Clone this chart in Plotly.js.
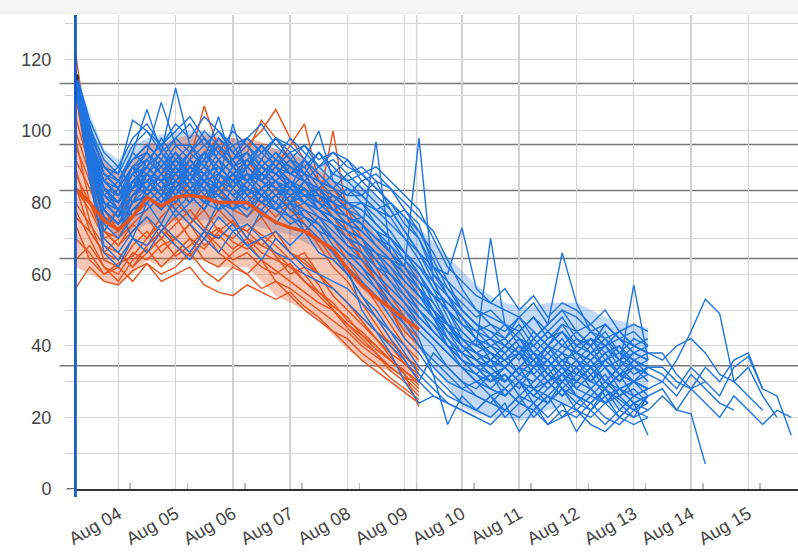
<!DOCTYPE html>
<html>
<head>
<meta charset="utf-8">
<script src="https://cdn.plot.ly/plotly-3.0.1.min.js"></script>
<style>
  html, body { margin: 0; padding: 0; background: #fff; }
  #chart { width: 798px; height: 555px; }
</style>
</head>
<body>
<div id="chart"></div>
<script>
"use strict";

const ORANGE = "#e8521c";
const BLUE = "#1f74e0";

// Samples are 6-hourly, starting Aug 03 06:00.
const START_MS = Date.UTC(2024, 7, 3, 6);
const STEP_MS = 6 * 3600 * 1000;

const X_RANGE = ["2024-08-03 05:26", "2024-08-15 20:50"];
const dayTicks = ["2024-08-04", "2024-08-05", "2024-08-06", "2024-08-07", "2024-08-08", "2024-08-09",
  "2024-08-10", "2024-08-11", "2024-08-12", "2024-08-13", "2024-08-14", "2024-08-15"];
const yTickVals = [0, 10, 20, 30, 40, 50, 60, 70, 80, 90, 100, 110, 120, 130];
const yTickText = ["0", "", "20", "", "40", "", "60", "", "80", "", "100", "", "120", ""];

const refLevels = [113.3, 96.2, 83.4, 64.4, 34.4];
const nowTime = "2024-08-03 06:00";
const eventTime = "2024-08-09 05:00";
const startMarkTime = ["2024-08-03 06:00"];
const startMarkValue = [115];

// orange group summary (mean and band), k = 0..24
const orangeMean = [84, 80, 75, 72.4, 76, 81.5, 79, 81.5, 82, 81.5, 80, 80, 80, 77, 74.5, 73, 72, 69.5, 67, 61.5, 57, 53.5, 50.5, 47.5, 44.5];
const orangeBandUpper = [106, 100, 92, 88, 92, 97, 96, 98, 99, 99, 98, 98, 98, 97, 95, 94, 92, 89, 86, 81, 76, 71, 67, 63, 60];
const orangeBandLower = [62, 60, 58, 57, 60, 64, 62, 64, 64, 64, 62, 62, 62, 58, 54, 52, 50, 47, 43, 39, 36, 34, 33, 32, 31];

// blue group band, k = 0..40
const blueBandUpper = [116, 105, 95, 92, 96, 98, 99, 100, 100, 100, 99, 98, 97, 96, 95, 94, 93, 91, 89, 87, 85, 82, 79, 76, 73,
  69, 65, 61, 57, 54, 52, 51, 51, 52, 52, 52, 50, 48, 47, 46, 45];
const blueBandLower = [112, 86, 74, 70, 72, 74, 74, 75, 75, 75, 75, 74, 74, 73, 72, 71, 69, 67, 64, 60, 56, 52, 48, 44, 39,
  34, 29, 23, 21, 20, 20, 19, 20, 22, 23, 24, 25, 24, 22, 22, 27];

const orangeLines = [
  [56, 62, 58, 57, 61, 63, 58, 60, 62, 57, 55, 54, 57, 55, 53, 55, 51, 48, 44, 40, 36, 33, 30, 27, 24],
  [78, 70, 62, 60, 66, 64, 68, 70, 66, 72, 68, 64, 66, 62, 60, 63, 58, 54, 50, 46, 42, 38, 33, 30, 26],
  [90, 75, 64, 62, 68, 72, 66, 70, 74, 68, 71, 67, 70, 66, 64, 62, 60, 55, 52, 47, 44, 40, 36, 32, 28],
  [70, 66, 60, 63, 65, 70, 74, 68, 65, 70, 73, 69, 67, 70, 65, 60, 62, 57, 50, 45, 41, 38, 34, 31, 30],
  [85, 72, 66, 64, 70, 68, 72, 76, 70, 67, 72, 75, 70, 68, 72, 66, 63, 60, 54, 50, 46, 42, 38, 35, 32],
  [98, 80, 70, 66, 62, 66, 70, 65, 68, 72, 66, 63, 60, 64, 58, 56, 53, 50, 47, 44, 40, 37, 34, 31, 27],
  [64, 68, 62, 58, 64, 67, 62, 66, 70, 64, 62, 66, 69, 64, 61, 58, 55, 52, 50, 46, 43, 39, 36, 33, 29],
  [80, 74, 68, 66, 62, 68, 72, 70, 74, 78, 72, 70, 74, 71, 68, 64, 66, 60, 56, 52, 48, 44, 41, 37, 34],
  [110, 88, 72, 68, 72, 76, 70, 74, 78, 73, 70, 74, 72, 68, 66, 62, 58, 55, 51, 48, 43, 40, 36, 33, 30],
  [74, 64, 60, 62, 58, 63, 60, 62, 66, 61, 58, 62, 60, 56, 58, 54, 50, 47, 44, 42, 38, 35, 31, 28, 25],
  [122, 95, 80, 76, 84, 90, 86, 92, 88, 94, 98, 92, 96, 100, 106, 98, 92, 86, 80, 72, 64, 58, 52, 46, 42],
  [100, 88, 76, 74, 82, 86, 90, 84, 92, 107, 95, 90, 94, 103, 98, 92, 88, 82, 76, 70, 64, 58, 50, 44, 40],
  [92, 84, 74, 78, 86, 82, 88, 84, 90, 86, 82, 88, 92, 86, 90, 96, 102, 86, 84, 78, 70, 62, 54, 48, 44],
  [88, 80, 72, 70, 78, 82, 78, 84, 80, 86, 82, 80, 84, 80, 78, 82, 78, 74, 70, 64, 58, 52, 46, 40, 36],
  [104, 90, 78, 72, 80, 88, 84, 80, 86, 90, 86, 84, 88, 84, 86, 82, 84, 80, 100, 76, 66, 58, 50, 42, 38],
  [84, 78, 70, 72, 76, 80, 84, 88, 82, 78, 84, 88, 82, 80, 76, 80, 74, 70, 64, 60, 54, 48, 42, 37, 33],
  [96, 86, 72, 68, 74, 78, 82, 78, 74, 80, 84, 78, 76, 80, 84, 78, 74, 68, 62, 58, 52, 46, 40, 35, 31],
  [76, 72, 66, 70, 74, 70, 76, 80, 76, 72, 78, 74, 72, 76, 70, 66, 64, 60, 56, 52, 47, 42, 37, 32, 23],
];

const blueLines = [
  [116, 100, 90, 86, 92, 96, 92, 98, 94, 100, 96, 92, 98, 94, 90, 94, 88, 86, 84, 80, 78, 74, 70, 66, 62, 58, 54, 50, 46, 44, 42, 46, 40, 44, 48, 42, 40, 44, 38, 36, 34],
  [114, 92, 80, 76, 86, 88, 82, 90, 86, 84, 90, 86, 82, 88, 84, 80, 84, 78, 74, 70, 68, 62, 60, 54, 50, 44, 40, 36, 34, 30, 32, 28, 34, 30, 26, 30, 34, 28, 32, 30, 28],
  [115, 96, 84, 80, 88, 84, 92, 88, 94, 90, 86, 102, 88, 86, 90, 86, 82, 84, 78, 76, 72, 68, 64, 60, 56, 52, 46, 42, 38, 40, 36, 38, 34, 40, 36, 38, 34, 36, 32, 34, 30],
  [113, 88, 70, 66, 72, 76, 72, 78, 74, 70, 76, 72, 74, 70, 72, 68, 72, 66, 64, 60, 54, 48, 42, 36, 30, 38, 34, 30, 26, 24, 22, 26, 20, 24, 28, 22, 20, 24, 26, 22, 24],
  [117, 102, 88, 84, 94, 106, 94, 112, 96, 90, 96, 92, 94, 88, 92, 90, 86, 82, 80, 76, 74, 70, 68, 64, 60, 54, 50, 46, 42, 40, 38, 42, 36, 40, 44, 38, 36, 40, 34, 38, 36],
  [115, 94, 82, 78, 82, 88, 84, 86, 92, 88, 84, 88, 90, 86, 82, 86, 82, 80, 76, 72, 70, 66, 62, 58, 54, 50, 44, 40, 38, 34, 30, 34, 32, 28, 32, 36, 30, 28, 32, 26, 28],
  [116, 98, 86, 82, 90, 86, 90, 94, 88, 92, 104, 90, 86, 92, 88, 84, 88, 82, 78, 74, 76, 72, 66, 62, 56, 50, 46, 42, 38, 36, 40, 36, 42, 38, 34, 40, 42, 36, 38, 34, 32],
  [114, 90, 76, 72, 80, 82, 78, 84, 80, 86, 82, 78, 84, 80, 78, 82, 76, 74, 70, 66, 64, 60, 56, 52, 46, 42, 38, 34, 30, 28, 26, 30, 24, 28, 32, 26, 24, 28, 22, 26, 24],
  [115, 96, 86, 82, 86, 90, 94, 88, 92, 96, 92, 88, 92, 96, 90, 88, 92, 86, 82, 78, 74, 70, 66, 62, 58, 54, 52, 48, 44, 46, 42, 48, 44, 40, 46, 44, 40, 46, 42, 40, 38],
  [116, 94, 84, 80, 84, 88, 86, 90, 84, 88, 90, 86, 88, 84, 86, 82, 80, 78, 76, 74, 72, 97, 66, 60, 56, 50, 46, 40, 38, 34, 36, 32, 30, 34, 38, 32, 30, 34, 28, 30, 28],
  [115, 92, 82, 78, 84, 86, 82, 88, 84, 86, 82, 86, 84, 80, 84, 80, 78, 76, 74, 70, 68, 66, 64, 62, 98, 58, 50, 44, 40, 38, 36, 40, 38, 34, 38, 36, 34, 38, 32, 30, 32],
  [114, 90, 74, 70, 76, 78, 82, 76, 80, 84, 78, 80, 76, 82, 78, 74, 76, 72, 66, 62, 50, 44, 38, 30, 24, 26, 24, 22, 20, 18, 22, 20, 24, 18, 20, 22, 18, 16, 20, 18, 20],
  [116, 98, 86, 84, 90, 92, 96, 90, 94, 98, 94, 90, 94, 90, 94, 90, 88, 86, 84, 80, 80, 78, 76, 78, 74, 62, 60, 73, 56, 52, 50, 48, 52, 46, 50, 48, 44, 46, 42, 44, 40],
  [115, 95, 84, 80, 86, 84, 88, 92, 86, 90, 86, 84, 88, 86, 84, 86, 80, 78, 74, 72, 68, 64, 60, 56, 50, 46, 42, 38, 34, 32, 30, 34, 28, 32, 36, 30, 34, 30, 26, 30, 28],
  [114, 92, 80, 76, 82, 86, 90, 86, 82, 88, 84, 88, 82, 84, 88, 84, 82, 80, 76, 72, 70, 66, 60, 56, 52, 48, 40, 36, 32, 30, 34, 30, 26, 30, 34, 28, 32, 26, 28, 24, 26],
  [116, 96, 84, 82, 88, 90, 86, 92, 88, 86, 92, 88, 86, 90, 86, 82, 84, 80, 78, 76, 72, 68, 64, 58, 54, 50, 44, 42, 40, 70, 46, 40, 36, 40, 44, 38, 36, 40, 36, 34, 36],
  [115, 94, 82, 78, 84, 88, 84, 86, 90, 86, 84, 90, 86, 82, 86, 84, 80, 78, 74, 70, 68, 64, 58, 54, 48, 44, 40, 36, 34, 36, 40, 38, 42, 46, 66, 52, 44, 40, 42, 38, 36],
  [114, 93, 80, 76, 80, 84, 80, 84, 88, 82, 86, 82, 84, 80, 82, 78, 80, 76, 72, 68, 66, 60, 56, 52, 46, 42, 38, 34, 30, 32, 28, 32, 36, 30, 34, 32, 36, 30, 34, 57, 36],
  [115, 92, 78, 74, 80, 82, 86, 80, 84, 80, 78, 84, 80, 78, 82, 78, 76, 72, 70, 66, 62, 58, 52, 48, 42, 32, 18, 26, 22, 20, 24, 16, 22, 26, 20, 24, 22, 18, 22, 20, 22],
  [114, 90, 76, 72, 78, 80, 84, 78, 82, 86, 80, 78, 82, 76, 80, 76, 72, 70, 66, 62, 58, 54, 48, 42, 38, 32, 28, 24, 22, 26, 22, 26, 24, 20, 24, 16, 22, 26, 20, 24, 15],
  [116, 97, 88, 86, 92, 94, 108, 96, 96, 92, 98, 94, 90, 96, 92, 88, 92, 88, 84, 82, 82, 78, 80, 74, 70, 60, 56, 52, 48, 50, 46, 44, 48, 44, 40, 44, 46, 42, 44, 40, 42],
  [115, 94, 80, 78, 86, 90, 86, 92, 88, 94, 90, 86, 92, 88, 86, 90, 86, 82, 80, 76, 74, 68, 64, 58, 54, 48, 44, 38, 36, 32, 34, 38, 32, 36, 30, 34, 38, 34, 30, 34, 32],
  [116, 101, 92, 88, 96, 100, 94, 98, 102, 96, 100, 94, 98, 102, 96, 92, 96, 92, 94, 90, 88, 84, 80, 76, 70, 62, 54, 48, 44, 42, 46, 42, 40, 44, 40, 38, 42, 40, 36, 38, 36],
  [115, 97, 86, 90, 84, 92, 88, 82, 90, 86, 92, 84, 90, 86, 92, 88, 90, 84, 88, 86, 82, 86, 78, 72, 66, 58, 50, 42, 38, 34, 38, 32, 36, 40, 34, 30, 34, 38, 32, 36, 34],
  [114, 88, 72, 78, 70, 80, 74, 82, 76, 72, 80, 76, 70, 78, 74, 80, 72, 76, 70, 66, 62, 58, 54, 50, 44, 40, 34, 30, 28, 32, 26, 30, 28, 24, 30, 26, 22, 28, 24, 20, 26],
  [116, 100, 90, 86, 94, 90, 98, 92, 96, 90, 98, 94, 90, 96, 92, 98, 94, 90, 92, 88, 90, 86, 84, 80, 76, 72, 64, 56, 50, 46, 44, 48, 42, 46, 50, 44, 40, 46, 42, 38, 40],
  [115, 96, 84, 80, 90, 82, 88, 94, 86, 92, 84, 90, 94, 86, 90, 84, 92, 88, 84, 88, 84, 80, 76, 70, 64, 56, 48, 40, 36, 32, 30, 34, 28, 26, 30, 34, 28, 24, 28, 30, 26],
  [117, 103, 94, 90, 98, 102, 96, 100, 104, 98, 94, 100, 96, 92, 98, 94, 96, 90, 94, 92, 88, 90, 86, 82, 78, 70, 62, 58, 54, 52, 56, 50, 54, 48, 52, 50, 46, 50, 44, 46, 44],
  [114, 92, 78, 84, 76, 84, 80, 86, 82, 78, 86, 82, 78, 84, 80, 86, 82, 78, 82, 80, 78, 74, 70, 64, 58, 50, 42, 36, 32, 28, 32, 26, 30, 34, 28, 24, 28, 32, 26, 28, 24],
  [115, 95, 86, 82, 88, 94, 88, 92, 86, 94, 88, 92, 86, 90, 94, 88, 86, 90, 86, 82, 86, 82, 78, 72, 66, 60, 54, 46, 42, 38, 36, 40, 34, 38, 42, 36, 32, 36, 40, 34, 32],
  [113, 87, 66, 62, 70, 66, 72, 68, 64, 70, 66, 72, 68, 64, 70, 66, 62, 60, 58, 56, 52, 48, 44, 40, 34, 30, 26, 24, 22, 26, 20, 24, 22, 18, 22, 20, 24, 20, 18, 22, 20],
  [116, 98, 88, 84, 90, 88, 94, 90, 86, 92, 96, 90, 86, 92, 88, 92, 88, 94, 90, 86, 88, 84, 80, 76, 72, 66, 58, 50, 46, 44, 40, 44, 48, 42, 46, 40, 44, 42, 38, 42, 40],
  [115, 94, 82, 86, 80, 88, 84, 90, 84, 80, 88, 84, 88, 82, 86, 80, 86, 82, 80, 84, 80, 76, 72, 66, 60, 52, 46, 40, 36, 34, 30, 34, 38, 32, 28, 32, 36, 30, 34, 30, 28],
  [114, 90, 80, 76, 86, 82, 78, 86, 82, 88, 84, 80, 86, 82, 78, 84, 80, 84, 78, 80, 76, 72, 68, 62, 56, 48, 42, 38, 34, 30, 34, 30, 26, 30, 32, 28, 26, 30, 28, 24, 26],
  [116, 99, 90, 86, 92, 96, 92, 88, 94, 98, 92, 96, 90, 94, 98, 92, 90, 94, 88, 92, 86, 88, 84, 78, 72, 64, 56, 50, 46, 42, 40, 44, 38, 42, 44, 40, 38, 42, 36, 40, 38],
  [115, 93, 84, 78, 84, 90, 86, 82, 88, 84, 90, 86, 82, 88, 84, 82, 86, 80, 82, 78, 80, 74, 70, 66, 60, 54, 46, 40, 36, 38, 34, 30, 34, 36, 32, 30, 34, 28, 32, 30, 28],
  [114, 91, 78, 74, 78, 82, 78, 82, 86, 80, 82, 78, 80, 84, 78, 76, 74, 70, 66, 60, 54, 50, 44, 38, 32, 28, 24],
  [113, 86, 68, 64, 70, 68, 74, 70, 66, 72, 70, 74, 68, 70, 66, 64, 60, 58, 56, 52, 48, 44, 40, 36, 30, 26, 24, 22, 20],
  [116, 99, 90, 88, 103, 100, 96, 102, 98, 104, 100, 96, 98, 94, 98, 96, 92, 100, 86, 84, 82, 78, 74, 70, 66, 62, 58, 54, 50, 48, 46],
  [115, 95, 84, 82, 88, 92, 88, 84, 90, 94, 88, 92, 96, 90, 88, 92, 86, 84, 82, 78, 76, 72, 70, 66, 62, 56, 52, 48, 42, 38, 34, 38, 32],
  [115, 93, 82, 80, 86, 90, 86, 88, 92, 86, 88, 84, 90, 86, 82, 84, 80, 78, 74, 70, 66, 62, 58, 52, 48, 44, 40, 38, 42, 36, 34, 38, 40, 36, 32, 36, 40, 34, 30, 36, 32, 30, 36, 44, 53, 49, 30, 26, 22],
  [114, 92, 80, 78, 84, 86, 82, 88, 84, 80, 86, 82, 86, 88, 84, 80, 82, 78, 74, 68, 64, 60, 54, 50, 46, 42, 38, 34, 32, 36, 30, 34, 38, 32, 30, 34, 30, 36, 32, 30, 34, 34, 30, 28, 34, 30, 36, 38, 28, 26, 15],
  [116, 96, 86, 82, 88, 92, 88, 94, 90, 86, 92, 88, 84, 90, 88, 86, 84, 80, 76, 74, 70, 66, 62, 56, 50, 46, 40, 34, 30, 28, 26, 30, 26, 24, 28, 26, 24, 28, 25, 22, 26, 28, 22, 21, 7],
  [115, 94, 84, 80, 86, 84, 88, 84, 90, 88, 84, 88, 84, 82, 86, 82, 84, 78, 76, 72, 70, 64, 60, 56, 52, 48, 46, 44, 40, 42, 38, 42, 38, 36, 40, 38, 42, 38, 40, 36, 38, 36, 40, 42, 38, 32, 30, 34, 26, 20],
  [114, 90, 78, 74, 82, 84, 80, 86, 82, 78, 84, 80, 78, 82, 80, 76, 78, 74, 68, 64, 60, 56, 50, 46, 40, 36, 32, 28, 30, 26, 28, 24, 28, 30, 26, 30, 28, 24, 28, 26, 28, 30, 26, 32, 28, 24, 22],
  [116, 97, 88, 84, 90, 94, 90, 96, 92, 88, 94, 90, 92, 88, 92, 88, 86, 84, 80, 78, 74, 70, 66, 62, 58, 54, 50, 46, 44, 40, 42, 38, 44, 40, 38, 42, 38, 40, 44, 40, 38, 38, 32, 28, 30, 26, 34, 37, 28],
  [115, 92, 80, 76, 82, 86, 82, 84, 80, 84, 82, 80, 84, 80, 78, 80, 76, 74, 70, 66, 62, 56, 52, 46, 40, 34, 30, 28, 26, 24, 28, 24, 22, 26, 24, 22, 26, 24, 20, 24, 22, 26, 22, 28, 24, 20, 26, 22, 18, 22, 20],
  [115, 95, 84, 80, 84, 88, 92, 86, 90, 94, 88, 86, 90, 86, 90, 86, 82, 82, 78, 74, 72, 68, 64, 60, 54, 50, 46, 42, 38, 36, 34, 38, 36, 32, 36, 34, 38, 34, 36, 32, 34, 32, 28, 34, 30],
];

// Sample index -> "YYYY-MM-DD HH:MM" (no timezone shift).
function sampleTimes(n) {
  const out = [];
  for (let k = 0; k < n; k++) {
    out.push(new Date(START_MS + k * STEP_MS).toISOString().slice(0, 16).replace("T", " "));
  }
  return out;
}

function lineTrace(y, color, width) {
  return {
    type: "scatter", mode: "lines", x: sampleTimes(y.length), y,
    line: { color, width }, hoverinfo: "skip",
  };
}

function bandTraces(upper, lower, fillcolor) {
  return [
    { type: "scatter", mode: "lines", x: sampleTimes(upper.length), y: upper, line: { width: 0 }, hoverinfo: "skip" },
    { type: "scatter", mode: "lines", x: sampleTimes(lower.length), y: lower, line: { width: 0 },
      fill: "tonexty", fillcolor, hoverinfo: "skip" },
  ];
}

const traces = [
  ...bandTraces(blueBandUpper, blueBandLower, "rgba(31,116,224,0.27)"),
  ...bandTraces(orangeBandUpper, orangeBandLower, "rgba(232,82,28,0.33)"),
  ...orangeLines.map((y) => lineTrace(y, ORANGE, 1.4)),
  ...blueLines.map((y) => lineTrace(y, BLUE, 1.4)),
  lineTrace(orangeMean, ORANGE, 3.5),
  {
    type: "scatter", mode: "markers", x: startMarkTime, y: startMarkValue, xaxis: "x2",
    marker: { color: "#222", size: 7 }, hoverinfo: "skip",
  },
];

const shapes = [
  // page strip above the plot
  { type: "rect", xref: "paper", yref: "paper", x0: -0.11, x1: 1.01, y0: 1.004, y1: 1.04,
    fillcolor: "#f6f6f6", line: { width: 0 }, layer: "above" },
  { type: "line", xref: "paper", yref: "paper", x0: -0.11, x1: 1.01, y0: 1.004, y1: 1.004,
    line: { color: "#e4e4e4", width: 1 }, layer: "above" },
  ...refLevels.map((v) => ({
    type: "line", xref: "paper", x0: -0.02, x1: 1, yref: "y", y0: v, y1: v,
    line: { color: "#777", width: 1.5 }, layer: "between",
  })),
  { type: "line", xref: "x", x0: eventTime, x1: eventTime, yref: "paper", y0: 0, y1: 1,
    line: { color: "#d2d2d2", width: 1.5 }, layer: "between" },
  { type: "line", xref: "paper", x0: -0.01, x1: 0, yref: "y", y0: 0, y1: 0,
    line: { color: "#333", width: 1.5 }, layer: "above" },
  { type: "line", xref: "x", x0: nowTime, x1: nowTime, yref: "paper", y0: -0.017, y1: 1,
    line: { color: "#1a5cc8", width: 3 }, layer: "above" },
];

const layout = {
  width: 798,
  height: 555,
  margin: { l: 74, r: 0, t: 15, b: 66 },
  paper_bgcolor: "#fff",
  plot_bgcolor: "#fff",
  showlegend: false,
  font: { family: "Liberation Sans, Arial, sans-serif", size: 18, color: "#444" },
  xaxis: {
    type: "date", range: X_RANGE, tickvals: dayTicks, tickformat: "%b %d", tickangle: -30,
    showgrid: true, gridcolor: "#d2d2d2", gridwidth: 1.5, ticks: "", ticklabelstandoff: 6,
    showline: true, linecolor: "#333", linewidth: 1.5, zeroline: false,
    tickfont: { family: "Liberation Sans, Arial, sans-serif", size: 18, color: "#444" },
  },
  xaxis2: {
    type: "date", overlaying: "x", anchor: "y", side: "bottom", range: X_RANGE,
    tickvals: dayTicks.map((d) => d + " 05:00"), ticks: "inside", ticklen: 6, tickwidth: 1.5,
    tickcolor: "#bbb", showticklabels: false, showgrid: false, zeroline: false, showline: false,
  },
  yaxis: {
    range: [0, 132.4], tickvals: yTickVals, ticktext: yTickText,
    ticks: "outside", ticklen: 8, tickcolor: "#cfcfcf", ticklabelstandoff: 10,
    showgrid: true, gridcolor: "#d8d8d8", gridwidth: 1, zeroline: false, showline: false,
    tickfont: { family: "Liberation Sans, Arial, sans-serif", size: 18, color: "#444" },
  },
  shapes,
};

Plotly.newPlot("chart", traces, layout, { displayModeBar: false, staticPlot: true });
</script>
</body>
</html>
